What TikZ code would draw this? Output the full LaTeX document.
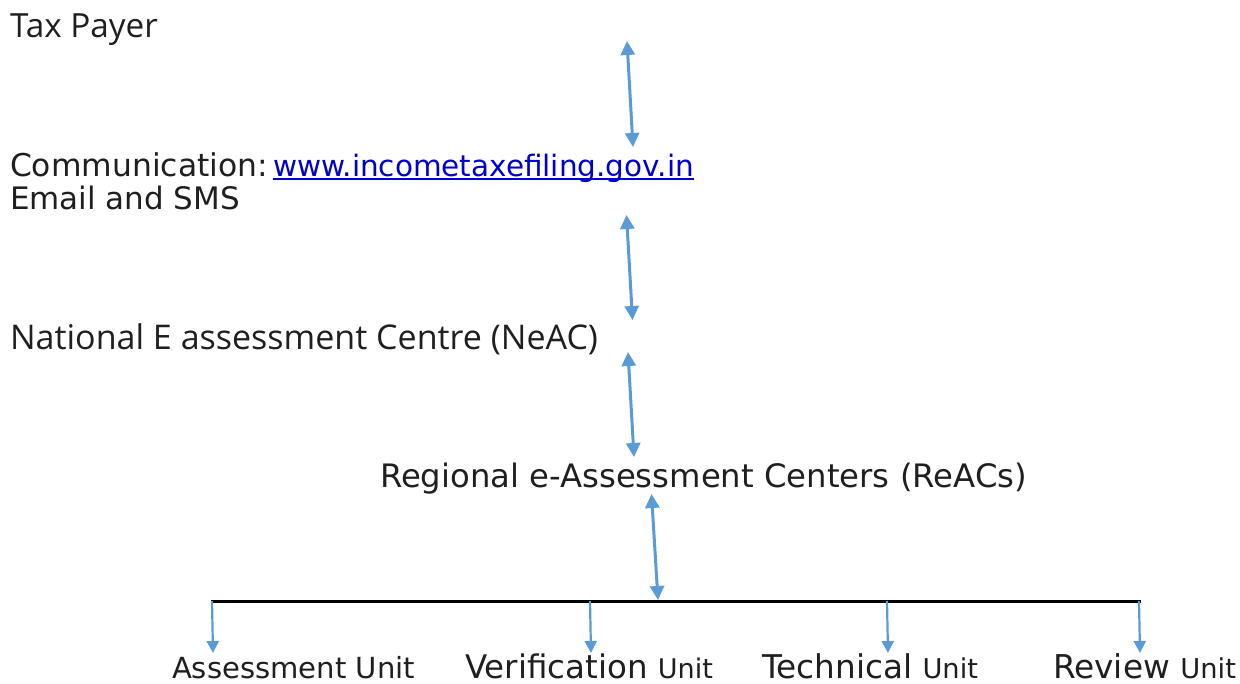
\documentclass[tikz,border=0pt]{standalone}
\usepackage{fontspec}
\setmainfont{DejaVu Sans}
\newfontfamily\opensans{Open Sans}
\usepackage{graphicx}
\usetikzlibrary{arrows.meta}
\definecolor{arrowblue}{HTML}{5B9BD5}
\definecolor{linkblue}{HTML}{0000CC}
\definecolor{txtgray}{HTML}{1F1F1F}
\newcommand{\fitw}[2]{\resizebox{#1}{!}{#2}}
\newcommand{\myul}[1]{\setbox0\hbox{#1}\rlap{\rule[-3pt]{\wd0}{1.8pt}}\box0}
\tikzset{
  lbl/.style={anchor=base west, inner sep=0pt, outer sep=0pt, text=txtgray, font=\fontsize{30}{36}\selectfont},
  dbl/.style={arrowblue, line width=3pt, {Triangle[width=14pt,length=14pt]}-{Triangle[width=14pt,length=14pt]}},
  down/.style={arrowblue, line width=2.2pt, -{Triangle[width=12pt,length=12pt]}},
  bar/.style={black, line width=3pt}
}
\begin{document}
\begin{tikzpicture}[x=1pt,y=-1pt]
\useasboundingbox (0,0) rectangle (1240,684);
% texts
\node[lbl] (tax) at (10,38) {\fitw{148pt}{\opensans Tax Payer}};
\node[lbl] (comm) at (10,177) {\fitw{258pt}{Communication:}};
\node[lbl] (url) at (273,177) {\fitw{421pt}{\color{linkblue}\myul{www.incometaxefiling.gov.in}}};
\node[lbl] (email) at (10,210) {\fitw{230pt}{Email and SMS}};
\node[lbl] (neac) at (10,350) {\fitw{588pt}{\opensans National E assessment Centre (NeAC)}};
\node[lbl] (reac) at (380,488) {\fitw{647pt}{Regional e-Assessment Centers (ReACs)}};
\node[lbl] (au) at (172,678) {\fitw{243pt}{\fontsize{27}{32}\selectfont Assessment Unit}};
\node[lbl] (vu) at (465,678) {\fitw{248pt}{\fontsize{30}{36}\selectfont Verification {\fontsize{25}{30}\selectfont Unit}}};
\node[lbl] (tu) at (762,678) {\fitw{216pt}{\fontsize{30}{36}\selectfont Technical {\fontsize{25}{30}\selectfont Unit}}};
\node[lbl] (ru) at (1053,678) {\fitw{183pt}{\fontsize{30}{36}\selectfont Review {\fontsize{25}{30}\selectfont Unit}}};
% arrow end points
\coordinate (a1t) at (627,41);   \coordinate (a1b) at (633,147);
\coordinate (a2t) at (626.5,215); \coordinate (a2b) at (632.5,320);
\coordinate (a3t) at (628,352);  \coordinate (a3b) at (634,457);
\coordinate (a4t) at (651.5,494); \coordinate (a4b) at (658,600);
\draw[dbl] (a1t) -- (a1b);
\draw[dbl] (a2t) -- (a2b);
\draw[dbl] (a3t) -- (a3b);
\draw[dbl] (a4t) -- (a4b);
% horizontal bar
\coordinate (bl) at (211,601.5);
\coordinate (br) at (1141,601.5);
\draw[bar] (bl) -- (br);
% down arrows
\coordinate (d1s) at (212,601); \coordinate (d1e) at (213,653);
\coordinate (d2s) at (590,601); \coordinate (d2e) at (591,653);
\coordinate (d3s) at (887,601); \coordinate (d3e) at (888,653);
\coordinate (d4s) at (1139,601); \coordinate (d4e) at (1140,653);
\draw[down] (d1s) -- (d1e);
\draw[down] (d2s) -- (d2e);
\draw[down] (d3s) -- (d3e);
\draw[down] (d4s) -- (d4e);
\end{tikzpicture}
\end{document}
